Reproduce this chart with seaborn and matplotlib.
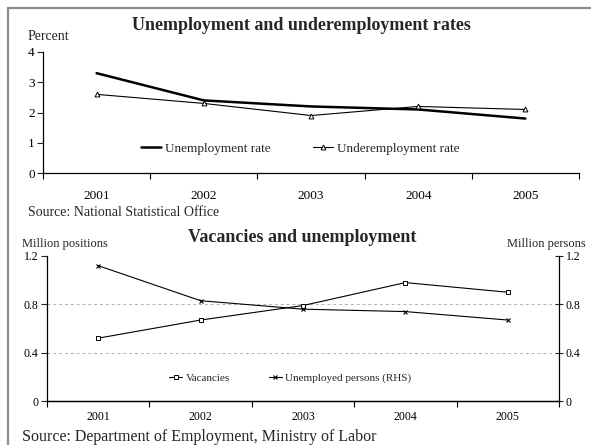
import numpy as np
import pandas as pd
import matplotlib
matplotlib.use("Agg")
import matplotlib.pyplot as plt
from matplotlib.lines import Line2D
from matplotlib.ticker import FixedLocator, NullFormatter, FixedFormatter
import seaborn as sns

years = ["2001", "2002", "2003", "2004", "2005"]
unemployment_rate = [3.3, 2.4, 2.2, 2.1, 1.8]
underemployment_rate = [2.6, 2.3, 1.9, 2.2, 2.1]
vacancies = [0.52, 0.67, 0.79, 0.98, 0.90]
unemployed_persons = [1.12, 0.83, 0.76, 0.74, 0.67]

top_yticks = [0, 1, 2, 3, 4]
bot_yticks = [0, 0.4, 0.8, 1.2]
bot_ylabels = ["0", "0.4", "0.8", "1.2"]

sns.set_theme(style="white")
plt.rcParams["font.family"] = ["Liberation Serif", "DejaVu Serif"]
plt.rcParams["axes.edgecolor"] = "black"

pos = np.arange(len(years))
df_top = pd.DataFrame({"pos": pos, "u": unemployment_rate, "ue": underemployment_rate})
df_bot = pd.DataFrame({"pos": pos, "v": vacancies, "up": unemployed_persons})

fig = plt.figure(figsize=(5.91, 4.45), dpi=100)
fig.patch.set_facecolor("white")


def cat_axis(ax, labels, fs, pad):
    n = len(labels)
    ax.set_xlim(-0.5, n - 0.5)
    ax.xaxis.set_major_locator(FixedLocator(np.arange(n + 1) - 0.5))
    ax.xaxis.set_major_formatter(NullFormatter())
    ax.xaxis.set_minor_locator(FixedLocator(np.arange(n)))
    ax.xaxis.set_minor_formatter(FixedFormatter(labels))
    ax.tick_params(axis="x", which="major", direction="out", length=4, width=0.8,
                   color="black", bottom=True)
    ax.tick_params(axis="x", which="minor", length=0, labelsize=fs, pad=pad,
                   labelcolor="black", bottom=True)


# ---------- top chart ----------
ax1 = fig.add_axes([43 / 591, 1 - 173 / 445, 536 / 591, 121 / 445])
sns.lineplot(data=df_top, x="pos", y="u", ax=ax1, color="black", lw=1.8,
             label="Unemployment rate")
sns.lineplot(data=df_top, x="pos", y="ue", ax=ax1, color="black", lw=0.8,
             marker="^", markersize=3.5, markerfacecolor="white",
             markeredgecolor="black", markeredgewidth=0.7,
             label="Underemployment rate")
ax1.set_ylim(0, 4)
ax1.set_yticks(top_yticks)
ax1.set_yticklabels([str(t) for t in top_yticks])
ax1.tick_params(axis="y", direction="out", length=4, width=0.8, left=True,
                labelsize=9.5, pad=2, labelcolor="black")
cat_axis(ax1, years, 9.5, 12)
ax1.set_xlabel("")
ax1.set_ylabel("")
for s in ["top", "right"]:
    ax1.spines[s].set_visible(False)
for s in ["left", "bottom"]:
    ax1.spines[s].set_linewidth(0.9)
ax1.legend(loc="center", bbox_to_anchor=(0.48, 0.2), ncol=2, frameon=False,
           fontsize=9.5, handlelength=1.5, columnspacing=3.2, handletextpad=0.3)

fig.text(0.51, 1 - 25 / 445, "Unemployment and underemployment rates",
         ha="center", va="center", fontsize=13, fontweight="bold")
fig.text(28 / 591, 1 - 37 / 445, "Percent", ha="left", va="center", fontsize=10)
fig.text(28 / 591, 1 - 212 / 445, "Source: National Statistical Office",
         ha="left", va="center", fontsize=10)

# ---------- bottom chart ----------
ax2 = fig.add_axes([47 / 591, 1 - 401 / 445, 512 / 591, 145 / 445])
sns.lineplot(data=df_bot, x="pos", y="v", ax=ax2, color="black", lw=0.8,
             marker="s", markersize=3.5, markerfacecolor="white",
             markeredgecolor="black", markeredgewidth=0.7, legend=False)
ax2.set_ylim(0, 1.2)
ax2.set_yticks(bot_yticks)
ax2.set_yticklabels(bot_ylabels)
ax2.tick_params(axis="y", direction="out", length=4, width=0.8, left=True,
                labelsize=8.5, pad=2, labelcolor="black")
cat_axis(ax2, years, 8.5, 7)
ax2.set_xlabel("")
ax2.set_ylabel("")
ax2.grid(axis="y", linestyle=(0, (3, 3)), color="#b0b0b0", lw=0.7)
glines = ax2.get_ygridlines()
glines[0].set_visible(False)
glines[-1].set_visible(False)
ax2.spines["top"].set_visible(False)

ax3 = ax2.twinx()
sns.lineplot(data=df_bot, x="pos", y="up", ax=ax3, color="black", lw=0.8,
             marker="x", markersize=3.5, markeredgecolor="black",
             markeredgewidth=0.8, legend=False)
ax3.set_ylim(0, 1.2)
ax3.set_yticks(bot_yticks)
ax3.set_yticklabels(bot_ylabels)
ax3.tick_params(axis="y", direction="inout", length=6, width=0.8, right=True,
                labelsize=8.5, pad=2, labelcolor="black")
ax3.set_ylabel("")
ax3.grid(False)
for s in ["top", "left"]:
    ax3.spines[s].set_visible(False)
for a in (ax2, ax3):
    for s in ["left", "bottom", "right"]:
        a.spines[s].set_linewidth(0.9)
ax2.spines["right"].set_visible(False)

handles = [
    Line2D([], [], color="black", lw=0.8, marker="s", markersize=3.5,
           markerfacecolor="white", markeredgecolor="black", markeredgewidth=0.7),
    Line2D([], [], color="black", lw=0.8, marker="x", markersize=3.5,
           markeredgecolor="black", markeredgewidth=0.8),
]
ax3.legend(handles, ["Vacancies", "Unemployed persons (RHS)"], loc="center",
           bbox_to_anchor=(0.475, 0.16), ncol=2, frameon=False, fontsize=8,
           handlelength=1.2, columnspacing=3.5, handletextpad=0.3)

fig.text(0.511, 1 - 238 / 445, "Vacancies and unemployment",
         ha="center", va="center", fontsize=13, fontweight="bold")
fig.text(22 / 591, 1 - 244 / 445, "Million positions", ha="left", va="center",
         fontsize=9)
fig.text(586 / 591, 1 - 244 / 445, "Million persons", ha="right", va="center",
         fontsize=9)
fig.text(22 / 591, 1 - 437 / 445,
         "Source: Department of Employment, Ministry of Labor",
         ha="left", va="center", fontsize=11.5)

# ---------- frame border ----------
fig.add_artist(Line2D([8 / 591, 8 / 591], [0, 1 - 8 / 445], transform=fig.transFigure,
                      color="#8c8c8c", lw=1.6))
fig.add_artist(Line2D([8 / 591, 1], [1 - 8 / 445, 1 - 8 / 445], transform=fig.transFigure,
                      color="#8c8c8c", lw=1.6))

fig.savefig("out.png", dpi=100, facecolor="white")
